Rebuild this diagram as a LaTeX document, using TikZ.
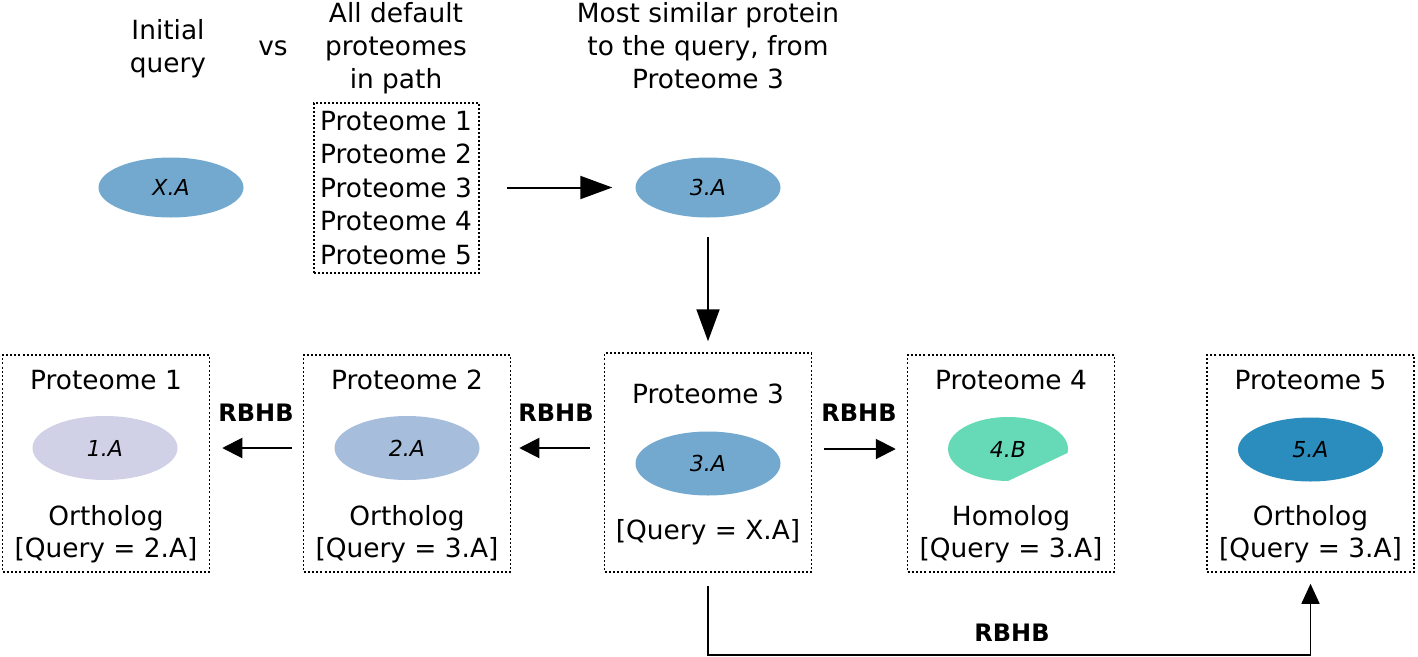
\documentclass[tikz,border=0pt]{standalone}
\usepackage{fontspec}
\setmainfont{DejaVu Sans}
\usetikzlibrary{shapes.geometric,arrows.meta,calc}
\definecolor{cXA}{HTML}{74A9CF}
\definecolor{cOne}{HTML}{D0D1E6}
\definecolor{cTwo}{HTML}{A6BDDB}
\definecolor{cFour}{HTML}{66D9B6}
\definecolor{cFive}{HTML}{2B8CBE}
\begin{document}
\begin{tikzpicture}[x=1pt,y=1pt,
  txt/.style={font=\fontsize{26.4}{33}\selectfont, inner sep=0, anchor=base},
  rbhb/.style={font=\bfseries\fontsize{24}{28}\selectfont, inner sep=0, anchor=base},
  lbl/.style={font=\itshape\fontsize{22}{26}\selectfont, inner sep=0},
  blob/.style={ellipse, inner sep=0, minimum width=145pt, minimum height=64pt, font=\itshape\fontsize{22}{26}\selectfont},
  pbox/.style={draw, line width=1.5pt, dash pattern=on 2pt off 2.2pt, inner sep=0, minimum width=207pt, minimum height=217pt},
  arrbig/.style={-{Triangle[length=32pt,width=23pt]}, line width=2pt},
  arrsm/.style={-{Triangle[length=20pt,width=20pt]}, line width=2pt},
  connect/.style={line width=1.6pt}
]
\useasboundingbox (0,0) rectangle (1418,-656);

% top row texts
\node[txt] (init1) at (168,-39) {Initial};
\node[txt] (init2) at (168,-72) {query};
\node[txt] (vs) at (273,-55) {vs};
\node[txt] (all1) at (396,-22) {All default};
\node[txt] (all2) at (396,-55) {proteomes};
\node[txt] (all3) at (396,-88) {in path};
\node[txt] (most1) at (708,-22) {Most similar protein};
\node[txt] (most2) at (708,-55) {to the query, from};
\node[txt] (most3) at (708,-88) {Proteome 3};

% list box
\node[draw, line width=1.3pt, dash pattern=on 2pt off 2pt, minimum width=165pt, minimum height=170pt, inner sep=0] (list) at (396.5,-188) {};
\node[txt] (l1) at (396,-130) {Proteome 1};
\node[txt] (l2) at (396,-163.5) {Proteome 2};
\node[txt] (l3) at (396,-197) {Proteome 3};
\node[txt] (l4) at (396,-230.5) {Proteome 4};
\node[txt] (l5) at (396,-264) {Proteome 5};

% top ellipses
\node[blob, fill=cXA, minimum height=60pt] (xa) at (171,-187.5) {X.A};
\node[blob, fill=cXA, minimum height=60pt] (top3a) at (708,-187.5) {3.A};

% boxes
\node[pbox] (box1) at (106,-463.5) {};
\node[pbox] (box2) at (407,-463.5) {};
\node[pbox, minimum height=219pt] (box3) at (708,-462.5) {};
\node[pbox] (box4) at (1011,-463.5) {};
\node[pbox] (box5) at (1310.5,-463.5) {};

% box 1
\node[txt] (p1) at (106,-389) {Proteome 1};
\node[blob, fill=cOne] (e1) at (105,-448) {1.A};
\node[txt] (o1) at (106,-525) {Ortholog};
\node[txt] (q1) at (106,-557) {[Query = 2.A]};
% box 2
\node[txt] (p2) at (407,-389) {Proteome 2};
\node[blob, fill=cTwo] (e2) at (407,-448) {2.A};
\node[txt] (o2) at (407,-525) {Ortholog};
\node[txt] (q2) at (407,-557) {[Query = 3.A]};
% box 3
\node[txt] (p3) at (708,-403) {Proteome 3};
\node[blob, fill=cXA] (e3) at (708,-463.5) {3.A};
\node[txt] (q3) at (708,-539) {[Query = X.A]};
% box 4
\fill[cFour] (1008,-449) ++(-7:60pt and 32pt) arc[start angle=-7, end angle=270, x radius=60pt, y radius=32pt] -- cycle;
\node[lbl] (e4) at (1008,-449) {4.B};
\node[txt] (p4) at (1011,-389) {Proteome 4};
\node[txt] (o4) at (1011,-525) {Homolog};
\node[txt] (q4) at (1011,-557) {[Query = 3.A]};
% box 5
\node[txt] (p5) at (1310.5,-389) {Proteome 5};
\node[blob, fill=cFive] (e5) at (1310.5,-449.5) {5.A};
\node[txt] (o5) at (1310.5,-525) {Ortholog};
\node[txt] (q5) at (1310.5,-557) {[Query = 3.A]};

% arrows
\draw[arrbig, shorten <=27pt, shorten >=23pt] (list.east |- top3a) -- (top3a.west);
\draw[arrbig, shorten <=19pt, shorten >=11pt] (top3a.south) -- (box3.north);

\draw[arrsm, shorten <=11pt, shorten >=12pt] (box2.west |- e2) -- (box1.east |- e2);
\draw[arrsm, shorten <=14pt, shorten >=8pt] (box3.west |- e2) -- (box2.east |- e2);
\draw[arrsm, shorten <=12pt, shorten >=11pt] (box3.east |- e4) -- (box4.west |- e4);

\node[rbhb] (r12) at (256,-421) {RBHB};
\node[rbhb] (r23) at (556,-421) {RBHB};
\node[rbhb] (r34) at (859,-421) {RBHB};

\draw[connect, -{Triangle[length=20pt,width=18pt]}, shorten <=13pt, shorten >=11pt] (box3.south) -- ++(0,-82) -| (box5.south);
\node[rbhb] (r35) at (1012,-641) {RBHB};
\end{tikzpicture}
\end{document}
